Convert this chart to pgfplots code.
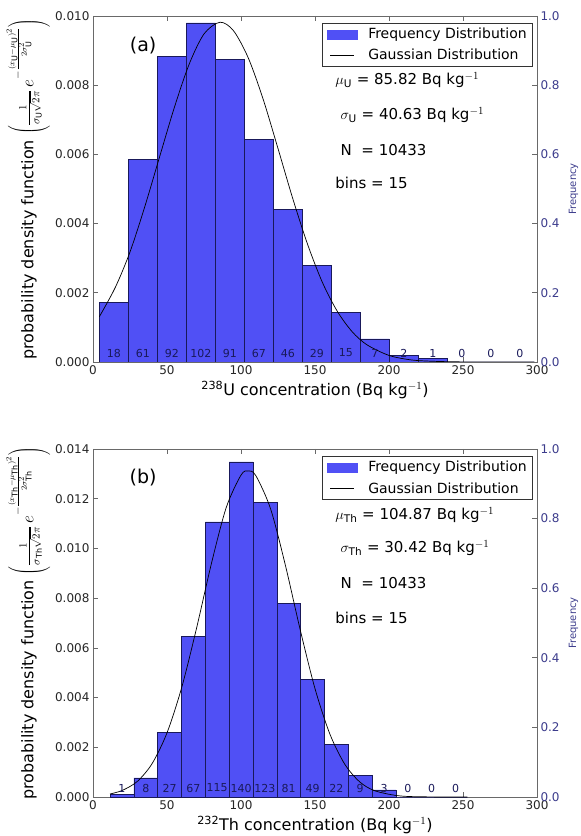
\documentclass[border=0pt]{standalone}
\usepackage{pgfplots}
\pgfplotsset{compat=1.18}
\usepackage{pgfplotstable}
\usepackage{fontspec}
\setmainfont{DejaVu Sans}

\definecolor{barfill}{RGB}{80,80,245}
\definecolor{baredge}{RGB}{25,25,90}
\definecolor{freqcol}{RGB}{60,60,140}
\definecolor{spine}{RGB}{105,105,105}

% bin left edges, pdf height (last row = right edge of last bin)
\pgfplotstableread{
x h
4.3 0.00173
23.9 0.00586
43.5 0.00884
63.1 0.00980
82.7 0.00874
102.3 0.00644
121.9 0.00442
141.5 0.00279
161.1 0.00144
180.7 0.00067
200.3 0.00019
219.9 0.00010
239.5 0
259.1 0
278.7 0
298.3 0
}\histU

\pgfplotstableread{
x h
11.5 0.000096
27.6 0.00077
43.7 0.00260
59.8 0.00645
75.9 0.01107
92.0 0.01348
108.1 0.01184
124.2 0.00780
140.3 0.00472
156.4 0.00212
172.5 0.00087
188.6 0.00029
204.7 0
220.8 0
236.9 0
253.0 0
}\histTh

\tikzset{note/.style={anchor=west, font=\fontsize{15}{17}\selectfont}}

\pgfplotsset{
  histo/.style={
    scale only axis, width=444pt, xmin=0, xmax=300, ymin=0,
    xtick={0,50,...,300}, xtick pos=both, ytick pos=left,
    axis line style={spine}, tick style={spine, line width=0.6pt}, major tick length=5pt,
    scaled y ticks=false,
    tick label style={font=\fontsize{12}{14}\selectfont, black!85},
    /pgf/number format/assume math mode=true,
    yticklabel style={/pgf/number format/fixed, /pgf/number format/fixed zerofill, /pgf/number format/precision=3},
    xlabel style={font=\fontsize{16}{18}\selectfont, at={(axis description cs:0.5,0)}, anchor=center, yshift=-28pt},
    ylabel style={font=\fontsize{16}{18}\selectfont, at={(axis description cs:-0.146,0.5)}, anchor=center},
    legend style={at={(0.991,0.98)}, anchor=north east, draw=black!80, line width=0.6pt,
      font=\fontsize{14}{16}\selectfont, inner xsep=4pt, inner ysep=3pt, row sep=5pt,
      /tikz/every odd column/.append style={column sep=9pt}},
    legend cell align=left,
  },
  freq/.style={
    scale only axis, width=444pt, xmin=0, xmax=300, ymin=0, ymax=1,
    axis x line=none, axis y line*=right,
    axis line style={spine}, tick style={spine, line width=0.6pt}, major tick length=5pt,
    ytick={0,0.2,...,1.0},
    tick label style={font=\fontsize{12}{14}\selectfont, freqcol},
    /pgf/number format/assume math mode=true,
    yticklabel style={/pgf/number format/fixed, /pgf/number format/fixed zerofill, /pgf/number format/precision=1},
    ylabel={Frequency},
    every axis y label/.style={font=\fontsize{10}{12}\selectfont, color=freqcol,
      at={(axis description cs:1.082,0.5)}, anchor=center, rotate=90},
  },
  counts/.style={draw=none, mark=none, forget plot, nodes near coords, point meta=explicit symbolic,
    every node near coord/.append style={anchor=center, font=\fontsize{11}{12}\selectfont, text=baredge}},
  barleg/.style={legend image code/.code={\fill[barfill] (0pt,-4.5pt) rectangle (30pt,4.5pt);}},
  lineleg/.style={legend image code/.code={\draw[black, line width=0.7pt] (3pt,0pt) -- (27pt,0pt);}},
}

\begin{document}
\begin{tikzpicture}
\useasboundingbox (0,0) rectangle (581pt,836pt);

% ---------- (a) 238U ----------
\begin{axis}[histo, at={(93pt,474pt)}, anchor=south west, height=346pt,
  ymax=0.010, ytick={0,0.002,...,0.010},
  xlabel={\textsuperscript{238}U concentration (Bq kg$^{-1}$)},
  ylabel={probability density function $\left(\frac{1}{\sigma_{\mathrm{U}}\sqrt{2\pi}}\,e^{-\frac{(x_{\mathrm{U}}-\mu_{\mathrm{U}})^2}{2\sigma_{\mathrm{U}}^2}}\right)$}]
\addplot[ybar interval, fill=barfill, draw=baredge, line width=0.5pt, barleg] table[x=x, y=h] {\histU};
\addlegendentry{Frequency Distribution}
\addplot[black, line width=0.7pt, smooth, lineleg] coordinates {
(4.3,0.00131) (15,0.00215) (25,0.00318) (35,0.00449) (45,0.00593) (55,0.00736)
(65,0.00861) (75,0.00948) (85.8,0.00982) (95,0.00957) (105,0.00878) (115,0.00759)
(125,0.00617) (135,0.00472) (145,0.00340) (155,0.00230) (165,0.00147) (175,0.00088)
(185,0.00050) (200,0.00019) (215,0.00006) (230,0.00002) (250,0.000003) (275,0) (298.3,0)};
\addlegendentry{Gaussian Distribution}
\addplot[counts] coordinates {
(14.1,0.00026)[18] (33.7,0.00026)[61] (53.3,0.00026)[92] (72.9,0.00026)[102]
(92.5,0.00026)[91] (112.1,0.00026)[67] (131.7,0.00026)[46] (151.3,0.00026)[29]
(170.9,0.00026)[15] (190.5,0.00026)[7] (210.1,0.00026)[2] (229.7,0.00026)[1]
(249.3,0.00026)[0] (268.9,0.00026)[0] (288.5,0.00026)[0]};
\node[font=\fontsize{19}{21}\selectfont] at (rel axis cs:0.113,0.916) {(a)};
\node[note] at (rel axis cs:0.538,0.815) {$\mu_{\mathrm{U}}$ = 85.82 Bq kg$^{-1}$};
\node[note] at (rel axis cs:0.55,0.714) {$\sigma_{\mathrm{U}}$ = 40.63 Bq kg$^{-1}$};
\node[note] at (rel axis cs:0.55,0.613) {N \ = 10433};
\node[note] at (rel axis cs:0.538,0.517) {bins = 15};
\end{axis}
\begin{axis}[freq, at={(93pt,474pt)}, anchor=south west, height=346pt]
\end{axis}

% ---------- (b) 232Th ----------
\begin{axis}[histo, at={(93pt,39pt)}, anchor=south west, height=348pt,
  ymax=0.014, ytick={0,0.002,...,0.014},
  xlabel={\textsuperscript{232}Th concentration (Bq kg$^{-1}$)},
  ylabel={probability density function $\left(\frac{1}{\sigma_{\mathrm{Th}}\sqrt{2\pi}}\,e^{-\frac{(x_{\mathrm{Th}}-\mu_{\mathrm{Th}})^2}{2\sigma_{\mathrm{Th}}^2}}\right)$}]
\addplot[ybar interval, fill=barfill, draw=baredge, line width=0.5pt, barleg] table[x=x, y=h] {\histTh};
\addlegendentry{Frequency Distribution}
\addplot[black, line width=0.7pt, smooth, lineleg] coordinates {
(11.5,0.00012) (20,0.00027) (30,0.00063) (40,0.00135) (50,0.00258) (60,0.00442)
(70,0.00680) (80,0.00939) (90,0.01164) (100,0.01295) (104.9,0.01312) (110,0.01293)
(120,0.01159) (130,0.00932) (140,0.00673) (150,0.00436) (160,0.00254) (170,0.00133)
(180,0.00062) (190,0.00026) (205,0.00006) (220,0.00001) (253,0)};
\addlegendentry{Gaussian Distribution}
\addplot[counts] coordinates {
(19.55,0.00036)[1] (35.65,0.00036)[8] (51.75,0.00036)[27] (67.85,0.00036)[67]
(83.95,0.00036)[115] (100.05,0.00036)[140] (116.15,0.00036)[123] (132.25,0.00036)[81]
(148.35,0.00036)[49] (164.45,0.00036)[22] (180.55,0.00036)[9] (196.65,0.00036)[3]
(212.75,0.00036)[0] (228.85,0.00036)[0] (244.95,0.00036)[0]};
\node[font=\fontsize{19}{21}\selectfont] at (rel axis cs:0.113,0.917) {(b)};
\node[note] at (rel axis cs:0.538,0.81) {$\mu_{\mathrm{Th}}$ = 104.87 Bq kg$^{-1}$};
\node[note] at (rel axis cs:0.55,0.716) {$\sigma_{\mathrm{Th}}$ = 30.42 Bq kg$^{-1}$};
\node[note] at (rel axis cs:0.55,0.615) {N \ = 10433};
\node[note] at (rel axis cs:0.538,0.514) {bins = 15};
\end{axis}
\begin{axis}[freq, at={(93pt,39pt)}, anchor=south west, height=348pt]
\end{axis}
\end{tikzpicture}
\end{document}
